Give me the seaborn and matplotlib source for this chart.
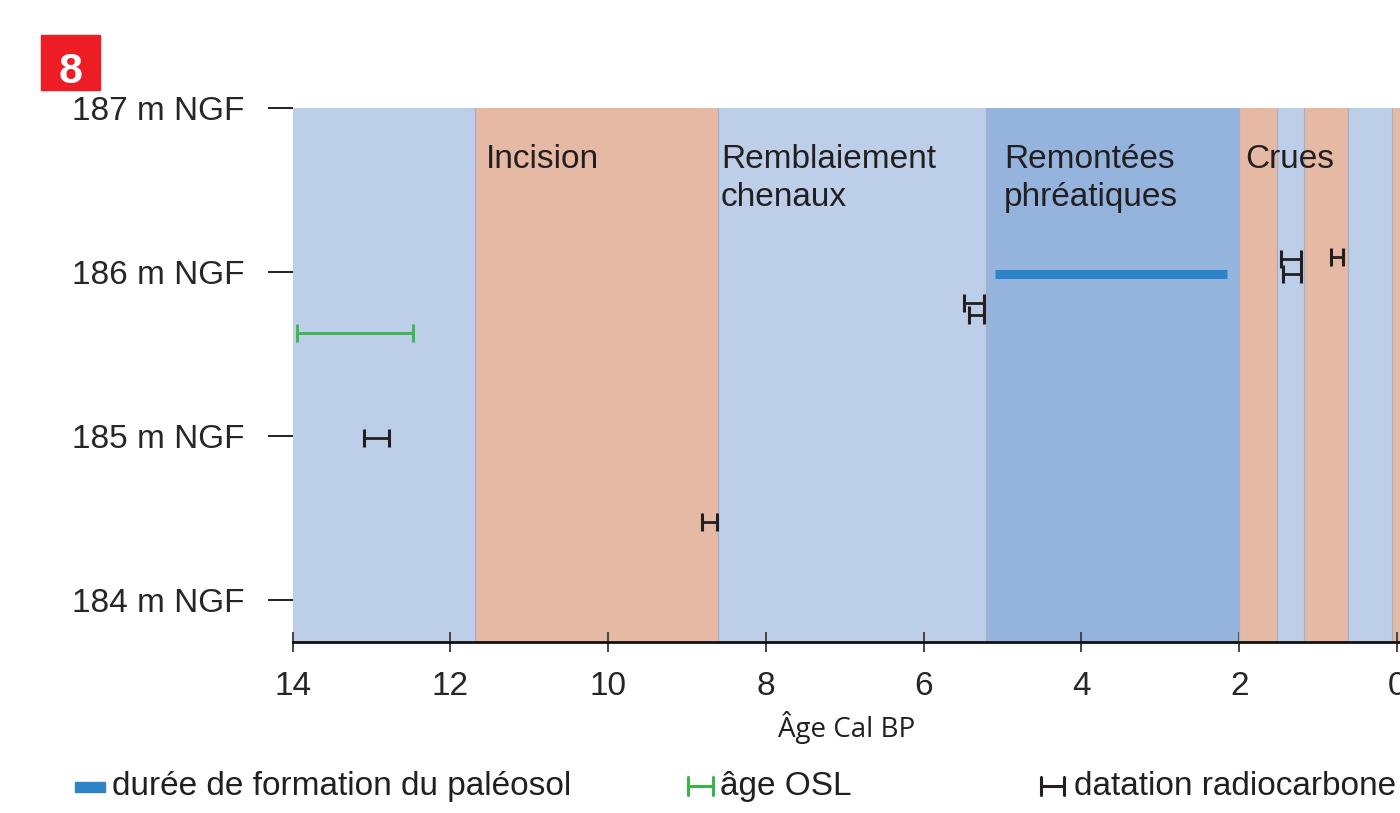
import matplotlib
matplotlib.use("Agg")
import matplotlib.pyplot as plt
import seaborn as sns
import pandas as pd
from matplotlib.lines import Line2D
from matplotlib.patches import Rectangle

# Phases (âge cal BP), du plus ancien au plus récent
band_starts = [14.0, 11.69, 8.61, 5.21, 2.00, 1.525, 1.175, 0.625, 0.067]
band_ends = [11.69, 8.61, 5.21, 2.00, 1.525, 1.175, 0.625, 0.067, -0.05]
band_kinds = ["stable", "erosion", "stable", "nappe", "erosion",
              "stable", "erosion", "stable", "erosion"]

phase_labels = ["Incision", "Remblaiement\nchenaux", "Remontées\nphréatiques", "Crues"]
phase_x = [11.55, 8.57, 4.98, 1.92]

# Paléosol
paleosol_age = [5.10, 2.16]
paleosol_alt = 185.99

# OSL
osl_age = [13.94, 12.48]
osl_alt = 185.63

# Radiocarbone : bornes d'âge et altitude
c14_old = [13.10, 8.81, 5.49, 5.42, 1.47, 1.445, 0.84]
c14_young = [12.78, 8.62, 5.24, 5.24, 1.22, 1.22, 0.68]
c14_alt = [184.99, 184.48, 185.81, 185.74, 186.08, 185.99, 186.09]

yticks = [184, 185, 186, 187]
xticks = [14, 12, 10, 8, 6, 4, 2, 0]

colors = {"stable": "#BDCFE8", "erosion": "#E5B9A4", "nappe": "#94B4DE"}
C_PALEO = "#2E83C6"
C_OSL = "#3AB54A"
C_C14 = "#231F20"

sns.set_style("white")
plt.rcParams["font.family"] = ["Liberation Sans", "DejaVu Sans"]

fig = plt.figure(figsize=(14, 8.13), dpi=100)
ax = fig.add_axes([292.7 / 1400, 1 - 641.5 / 813, (1400 - 292.7) / 1400, (641.5 - 108) / 813])

for s, e, k in zip(band_starts, band_ends, band_kinds):
    ax.axvspan(s, e, color=colors[k], lw=0, zorder=0)
for s in band_starts[1:]:
    ax.axvline(s, color="#A7AEC6", lw=0.9, zorder=1)

for lab, x in zip(phase_labels, phase_x):
    ax.text(x, 186.78, lab, fontsize=24, color="#231F20", ha="left", va="top",
            linespacing=1.3, zorder=3)

# paléosol
df_p = pd.DataFrame({"age": paleosol_age, "alt": [paleosol_alt] * 2})
sns.lineplot(data=df_p, x="age", y="alt", color=C_PALEO, lw=6.5, ax=ax,
             solid_capstyle="butt", zorder=4)

# OSL
ax.errorbar([(osl_age[0] + osl_age[1]) / 2], [osl_alt],
            xerr=[(osl_age[0] - osl_age[1]) / 2], fmt="none", ecolor=C_OSL,
            elinewidth=2, capsize=6.8, capthick=2, zorder=4)

# radiocarbone
df_c = pd.DataFrame({"old": c14_old, "young": c14_young, "alt": c14_alt})
df_c["mid"] = (df_c["old"] + df_c["young"]) / 2
df_c["half"] = (df_c["old"] - df_c["young"]) / 2
ax.errorbar(df_c["mid"], df_c["alt"], xerr=df_c["half"], fmt="none",
            ecolor=C_C14, elinewidth=2, capsize=6.5, capthick=2.2, zorder=5)

ax.set_xlim(14, -0.038)
ax.set_ylim(183.75, 187)
ax.set_xticks(xticks)
ax.set_xticklabels([str(t) for t in xticks], fontsize=24)
ax.set_yticks(yticks)
ax.set_yticklabels([f"{t} m NGF" for t in yticks], fontsize=24)
ax.tick_params(axis="y", direction="out", length=18, width=1.4, color="#231F20",
               pad=17, left=True)
ax.tick_params(axis="x", direction="inout", length=15, width=1.4, color="#444444",
               pad=14, bottom=True)
for side in ["left", "right", "top"]:
    ax.spines[side].set_visible(False)
ax.spines["bottom"].set_linewidth(2)
ax.spines["bottom"].set_color("#111111")
ax.set_xlabel("Âge Cal BP", fontsize=20, family=["Open Sans", "DejaVu Sans"],
              labelpad=6, color="#231F20")
ax.set_ylabel("")

# badge
fig.patches.append(Rectangle((41 / 1400, 1 - 90.5 / 813), 59 / 1400, 55.5 / 813,
                             transform=fig.transFigure, color="#EE1C25", zorder=0))
fig.text(70.5 / 1400, 1 - 67.5 / 813, "8", color="white", fontsize=31,
         fontweight="bold", ha="center", va="center_baseline")

# légende
ly = 1 - 786 / 813
fig.patches.append(Rectangle((75 / 1400, 1 - 792 / 813), 30 / 1400, 10 / 813,
                             transform=fig.transFigure, color=C_PALEO))
fig.text(112 / 1400, ly, "durée de formation du paléosol", fontsize=24,
         va="center", ha="left", color="#231F20")
for x0, x1, c in [(688, 713, C_OSL), (1041, 1064, C_C14)]:
    fig.add_artist(Line2D([x0 / 1400, x1 / 1400], [ly, ly], color=c, lw=2.2,
                          transform=fig.transFigure))
    for xe in (x0, x1):
        fig.add_artist(Line2D([xe / 1400, xe / 1400], [ly - 9 / 813, ly + 9 / 813],
                              color=c, lw=2.2, transform=fig.transFigure))
fig.text(720 / 1400, ly, "âge OSL", fontsize=24, va="center", ha="left", color="#231F20")
fig.text(1074 / 1400, ly, "datation radiocarbone", fontsize=24, va="center",
         ha="left", color="#231F20")

fig.savefig("out.png", dpi=100)
